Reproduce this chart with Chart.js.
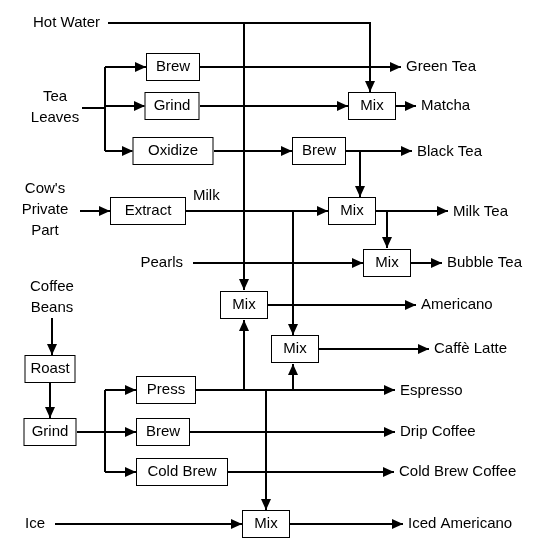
<!DOCTYPE html>
<html>
<head>
<meta charset="utf-8">
<script src="https://cdn.jsdelivr.net/npm/chart.js@4/dist/chart.umd.min.js"></script>
<style>
  html, body { margin: 0; padding: 0; background: #fff; }
  #wrap { width: 552px; height: 550px; }
</style>
</head>
<body>
<div id="wrap"><canvas id="flow"></canvas></div>
<script>
// Plain labels: [text lines, x, y, align]
const labels = [
    [["Hot Water"], 100, 23, "right"],
    [["Tea", "Leaves"], 55, 97, "center"],
    [["Cow's", "Private", "Part"], 45, 189, "center"],
    [["Pearls"], 183, 263, "right"],
    [["Coffee", "Beans"], 52, 287, "center"],
    [["Ice"], 25, 524, "left"],
    [["Milk"], 193, 196, "left"],
    [["Green Tea"], 406, 67, "left"],
    [["Matcha"], 421, 106, "left"],
    [["Black Tea"], 417, 152, "left"],
    [["Milk Tea"], 453, 212, "left"],
    [["Bubble Tea"], 447, 263, "left"],
    [["Americano"], 421, 305, "left"],
    [["Caffè Latte"], 434, 349, "left"],
    [["Espresso"], 400, 391, "left"],
    [["Drip Coffee"], 400, 432, "left"],
    [["Cold Brew Coffee"], 399, 472, "left"],
    [["Iced Americano"], 408, 524, "left"]
];

// Boxes: [text, centre x, centre y, width]
const boxes = [
    ["Brew", 173, 67, 54],
    ["Grind", 172, 106, 55],
    ["Oxidize", 173, 151, 81],
    ["Brew", 319, 151, 54],
    ["Mix", 372, 106, 48],
    ["Extract", 148, 211, 76],
    ["Mix", 352, 211, 48],
    ["Mix", 387, 263, 48],
    ["Mix", 244, 305, 48],
    ["Mix", 295, 349, 48],
    ["Roast", 50, 369, 51],
    ["Grind", 50, 432, 53],
    ["Press", 166, 390, 60],
    ["Brew", 163, 432, 54],
    ["Cold Brew", 182, 472, 92],
    ["Mix", 266, 524, 48]
];

// Lines: [points, arrow at end]
const edges = [
    [[[108, 23], [370, 23], [370, 92]], true],
    [[[244, 23], [244, 290]], true],
    [[[82, 108], [105, 108]], false],
    [[[105, 67], [105, 151]], false],
    [[[105, 67], [146, 67]], true],
    [[[105, 106], [145, 106]], true],
    [[[105, 151], [133, 151]], true],
    [[[200, 67], [401, 67]], true],
    [[[200, 106], [348, 106]], true],
    [[[396, 106], [416, 106]], true],
    [[[214, 151], [292, 151]], true],
    [[[346, 151], [412, 151]], true],
    [[[360, 151], [360, 197]], true],
    [[[80, 211], [110, 211]], true],
    [[[186, 211], [328, 211]], true],
    [[[293, 211], [293, 335]], true],
    [[[376, 211], [448, 211]], true],
    [[[387, 211], [387, 248]], true],
    [[[193, 263], [363, 263]], true],
    [[[411, 263], [442, 263]], true],
    [[[268, 305], [416, 305]], true],
    [[[319, 349], [429, 349]], true],
    [[[52, 318], [52, 355]], true],
    [[[50, 383], [50, 418]], true],
    [[[77, 432], [105, 432]], false],
    [[[105, 390], [105, 472]], false],
    [[[105, 390], [136, 390]], true],
    [[[105, 432], [136, 432]], true],
    [[[105, 472], [136, 472]], true],
    [[[196, 390], [395, 390]], true],
    [[[244, 390], [244, 320]], true],
    [[[293, 390], [293, 364]], true],
    [[[266, 390], [266, 510]], true],
    [[[190, 432], [395, 432]], true],
    [[[228, 472], [394, 472]], true],
    [[[55, 524], [242, 524]], true],
    [[[290, 524], [403, 524]], true]
];

const FONT = "15px 'Liberation Sans', Arial, sans-serif";

const flowPlugin = {
    id: "flow",
    afterDraw(chart) {
        const ctx = chart.ctx;
        const sx = chart.scales.x, sy = chart.scales.y;
        const px = v => sx.getPixelForValue(v);
        const py = v => sy.getPixelForValue(v);
        ctx.save();
        ctx.strokeStyle = "#000";
        ctx.fillStyle = "#000";
        ctx.lineWidth = 2;

        edges.forEach(([pts, arrow]) => {
            ctx.beginPath();
            pts.forEach(([x, y], i) => {
                if (i === 0) ctx.moveTo(px(x), py(y));
                else ctx.lineTo(px(x), py(y));
            });
            ctx.stroke();
            if (arrow) {
                let [x1, y1] = pts[pts.length - 2];
                let [x2, y2] = pts[pts.length - 1];
                let a = Math.atan2(py(y2) - py(y1), px(x2) - px(x1));
                let ex = px(x2), ey = py(y2);
                ctx.beginPath();
                ctx.moveTo(ex, ey);
                ctx.lineTo(ex - 11 * Math.cos(a) + 5 * Math.sin(a), ey - 11 * Math.sin(a) - 5 * Math.cos(a));
                ctx.lineTo(ex - 11 * Math.cos(a) - 5 * Math.sin(a), ey - 11 * Math.sin(a) + 5 * Math.cos(a));
                ctx.closePath();
                ctx.fill();
            }
        });

        ctx.font = FONT;
        ctx.textBaseline = "middle";
        ctx.lineWidth = 1;
        boxes.forEach(([text, x, y, w]) => {
            let l = px(x - w / 2), t = py(y - 14);
            ctx.fillStyle = "#fff";
            ctx.fillRect(l, t, w, 28);
            ctx.strokeRect(l + 0.5, t + 0.5, w - 1, 27);
            ctx.fillStyle = "#000";
            ctx.textAlign = "center";
            ctx.fillText(text, px(x), py(y));
        });

        labels.forEach(([lines, x, y, align]) => {
            ctx.textAlign = align;
            lines.forEach((s, i) => ctx.fillText(s, px(x), py(y + i * 21)));
        });
        ctx.restore();
    }
};

new Chart(document.getElementById("flow"), {
    type: "scatter",
    data: { datasets: [{ data: boxes.map(b => ({ x: b[1], y: b[2] })), pointRadius: 0 }] },
    options: {
        responsive: true,
        maintainAspectRatio: false,
        animation: false,
        layout: { padding: 0 },
        plugins: { legend: { display: false }, tooltip: { enabled: false } },
        scales: {
            x: { type: "linear", min: 0, max: 552, display: false },
            y: { type: "linear", min: 0, max: 550, reverse: true, display: false }
        }
    },
    plugins: [flowPlugin]
});
</script>
</body>
</html>
